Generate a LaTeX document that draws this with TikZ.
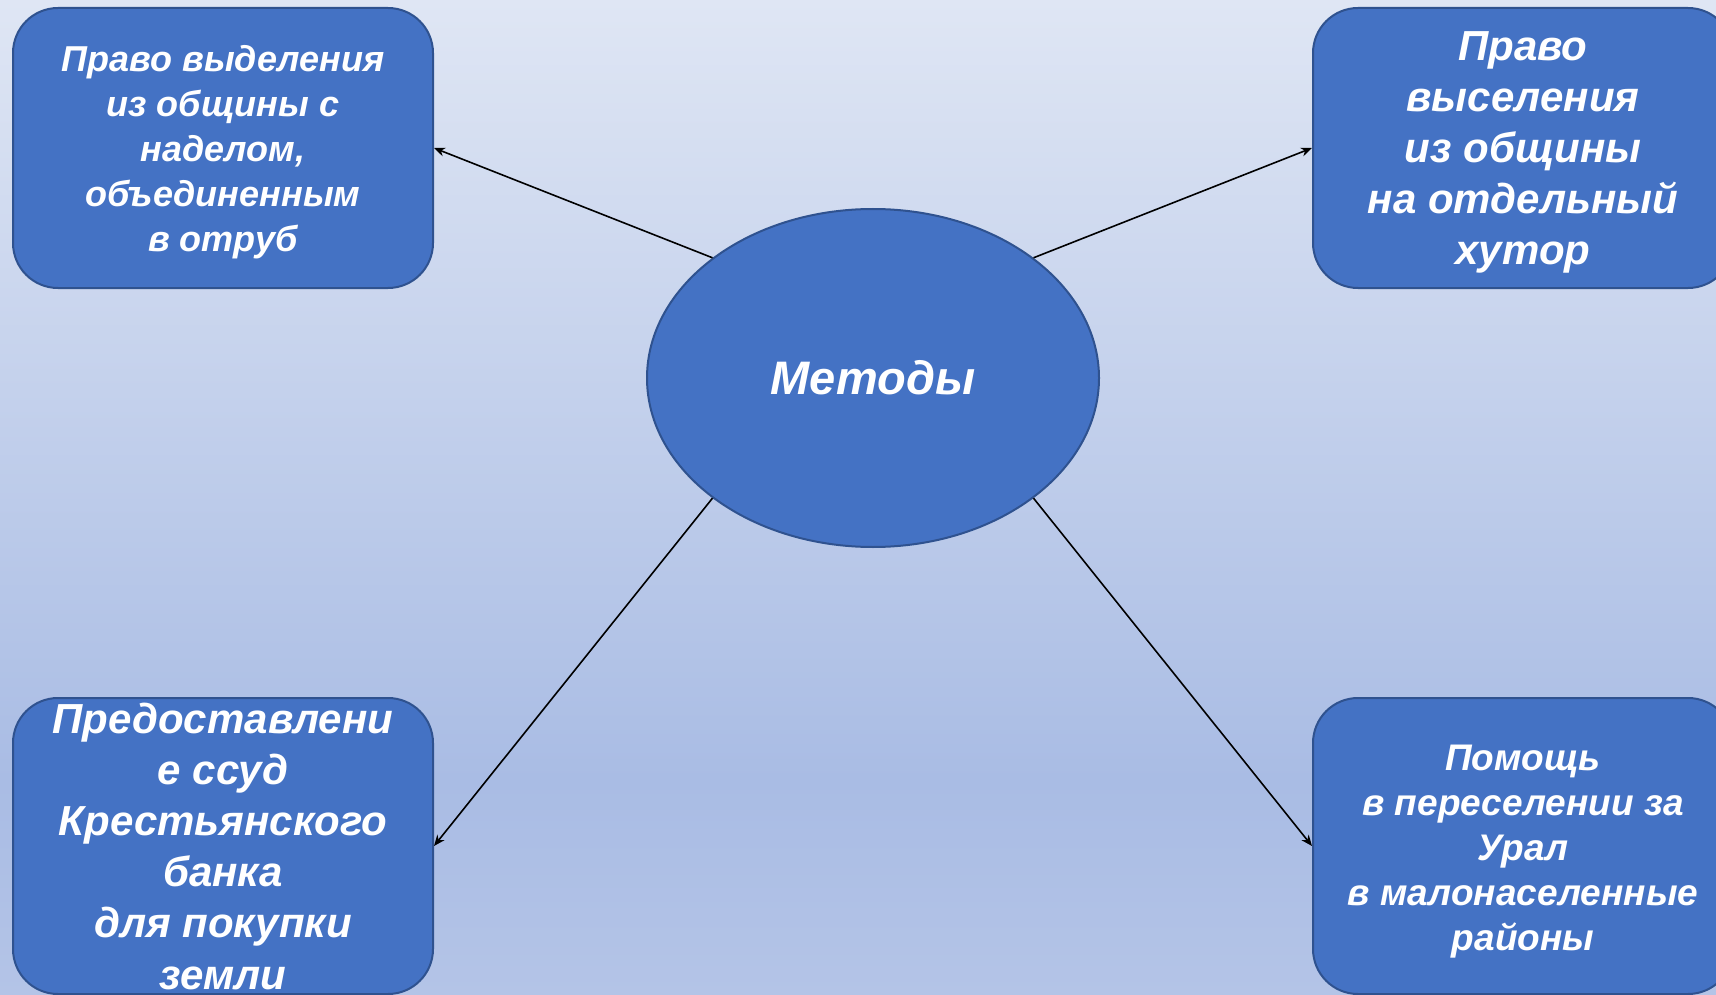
\documentclass[tikz,border=0pt]{standalone}
\usepackage{fontspec}
\setmainfont{Liberation Sans}
\usetikzlibrary{shapes.geometric,arrows.meta}
\definecolor{boxblue}{HTML}{4472C4}
\definecolor{boxedge}{HTML}{2F528F}
\definecolor{bgtop}{HTML}{DFE6F4}
\definecolor{bgmid}{HTML}{A9BCE4}
\definecolor{bgbot}{HTML}{B4C4E7}
\begin{document}
\begin{tikzpicture}[x=1pt,y=-1pt,
  boxnode/.style={draw=boxedge, line width=2pt, fill=boxblue, rounded corners=45pt,
    minimum width=420pt, inner sep=0pt},
  boxtext/.style={inner sep=0pt, align=center, text=white},
  hub/.style={ellipse, draw=boxedge, line width=2pt, fill=boxblue, minimum width=452pt,
    minimum height=338pt, inner sep=0pt, text=white,
    font=\bfseries\itshape\fontsize{47}{56}\selectfont},
  link/.style={draw=black, line width=1.6pt, -{Stealth[length=11pt,width=9pt]}}]
\clip (0,0) rectangle (1716,995);
\shade[top color=bgtop, bottom color=bgmid] (0,0) rectangle (1716,780);
\shade[top color=bgmid, bottom color=bgbot] (0,780) rectangle (1716,995);

\node[hub] (m) at (873,378) {Методы};

\node[boxnode, minimum height=280pt] (b1) at (223,148) {};
\node[boxnode, minimum height=280pt] (b2) at (1523,148) {};
\node[boxnode, minimum height=296pt] (b3) at (223,846) {};
\node[boxnode, minimum height=296pt] (b4) at (1523,846) {};

\node[boxtext, font=\bfseries\itshape\fontsize{36}{45}\selectfont] (t1) at ([yshift=-3.8pt]b1.center)
  {Право выделения\\из общины с\\наделом,\\объединенным\\в отруб};
\node[boxtext, font=\bfseries\itshape\fontsize{42}{51}\selectfont] (t2) at ([yshift=-4.4pt]b2.center)
  {Право\\выселения\\из общины\\на отдельный\\хутор};
\node[boxtext, font=\bfseries\itshape\fontsize{42}{51.2}\selectfont] (t3) at (b3.center)
  {Предоставлени\\е ссуд\\Крестьянского\\банка\\для покупки\\земли};
\node[boxtext, font=\bfseries\itshape\fontsize{37}{45}\selectfont] (t4) at ([yshift=-5.5pt]b4.center)
  {Помощь\\в переселении за\\Урал\\в малонаселенные\\районы};

\draw[link] (m.north west) -- (b1.east);
\draw[link] (m.north east) -- (b2.west);
\draw[link] (m.south west) -- (b3.east);
\draw[link] (m.south east) -- (b4.west);
\end{tikzpicture}
\end{document}
